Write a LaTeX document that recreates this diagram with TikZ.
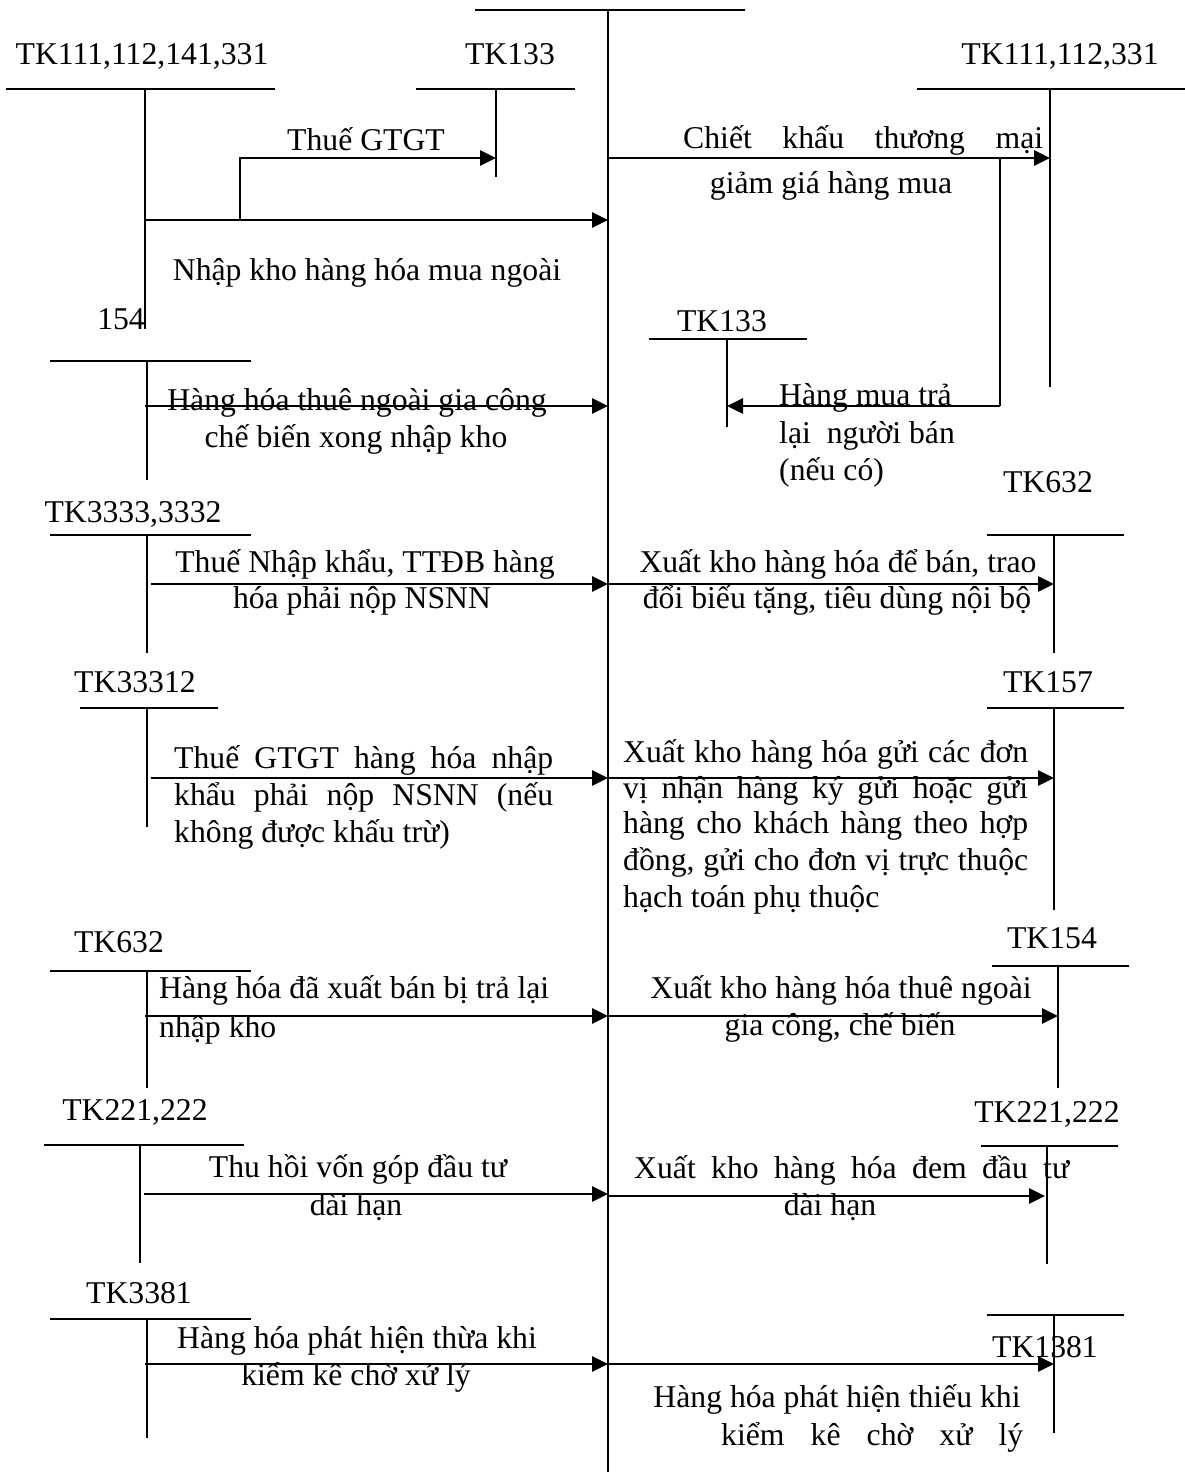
\documentclass[tikz,border=0pt]{standalone}
\usepackage{fontspec}
\setmainfont{Liberation Serif}
\usetikzlibrary{arrows.meta}
\newcommand\taccount[6]{% name, xl, xr, xv, ytop, ybot
  \coordinate (#1-l) at (#2,#5);
  \coordinate (#1-r) at (#3,#5);
  \coordinate (#1-t) at (#4,#5);
  \coordinate (#1-b) at (#4,#6);
  \draw[tl] (#1-l) -- (#1-r);
  \draw[tl] (#1-t) -- (#1-b);
}
\newcommand\flowarrow[4]{% name, x1, x2, y
  \coordinate (#1-s) at (#2,#4);
  \coordinate (#1-e) at (#3,#4);
  \draw[ar] (#1-s) -- (#1-e);
}
\begin{document}
\begin{tikzpicture}[x=1pt,y=-1pt,
  tl/.style={line width=2pt},
  ar/.style={line width=2.8pt,-{Triangle[length=16pt,width=15pt]}},
  lb/.style={inner sep=0pt,anchor=base,font=\fontsize{31.7}{37}\selectfont},
  lbw/.style={lb,anchor=base west},
]
\useasboundingbox (0,0) rectangle (1185,1472);

% central account
\coordinate (ctop) at (608,10);
\coordinate (cbot) at (608,1472);
\coordinate (cbl) at (475,10);
\coordinate (cbr) at (745,10);
\draw[tl] (cbl) -- (cbr);
\draw[tl] (ctop) -- (cbot);

% ---------------- left side ----------------
\taccount{L1}{6}{275}{145}{89}{329}
\node[lb] (L1n) at (142,65) {TK111,112,141,331};
\taccount{T133a}{416}{575}{496}{89}{177}
\node[lb] (T133an) at (510,65) {TK133};
\flowarrow{A1}{145}{608}{220}
\coordinate (vatb) at (240,220);
\coordinate (vatk) at (240,158);
\coordinate (vate) at (496,158);
\draw[ar] (vatb) -- (vatk) -- (vate);
\node[lb] (vatl) at (366,150) {Thuế GTGT};
\node[lb] (A1l) at (367,280) {Nhập kho hàng hóa mua ngoài};

\taccount{L2}{50}{251}{147}{361}{480}
\node[lb,anchor=base east] (L2n) at (145,329) {154};
\flowarrow{A2}{145}{608}{406}
\node[lb] (A2a) at (357,410) {Hàng hóa thuê ngoài gia công};
\node[lb] (A2b) at (356,447) {chế biến xong nhập kho};

\taccount{L3}{50}{251}{147}{535}{653}
\node[lb] (L3n) at (133,522) {TK3333,3332};
\flowarrow{A3}{151}{608}{584}
\node[lb] (A3a) at (365,572) {Thuế Nhập khẩu, TTĐB hàng};
\node[lb] (A3b) at (362,608) {hóa phải nộp NSNN};

\taccount{L4}{80}{218}{147}{708}{827}
\node[lb] (L4n) at (135,692) {TK33312};
\flowarrow{A4}{151}{608}{778}
\node[lbw] (A4a) at (174,768) {\makebox[379pt][s]{Thuế GTGT hàng hóa nhập}};
\node[lbw] (A4b) at (174,805) {\makebox[379pt][s]{khẩu phải nộp NSNN (nếu}};
\node[lbw] (A4c) at (174,842) {không được khấu trừ)};

\taccount{L5}{50}{251}{147}{971}{1088}
\node[lb] (L5n) at (119,952) {TK632};
\flowarrow{A5}{145}{608}{1016}
\node[lbw] (A5a) at (159,998) {Hàng hóa đã xuất bán bị trả lại};
\node[lbw] (A5b) at (159,1037) {nhập kho};

\taccount{L6}{44}{244}{140}{1145}{1263}
\node[lb] (L6n) at (135,1120) {TK221,222};
\flowarrow{A6}{144}{608}{1194}
\node[lb] (A6a) at (358,1177) {Thu hồi vốn góp đầu tư};
\node[lb] (A6b) at (356,1215) {dài hạn};

\taccount{L7}{50}{251}{147}{1319}{1438}
\node[lb] (L7n) at (139,1303) {TK3381};
\flowarrow{A7}{145}{608}{1364}
\node[lb] (A7a) at (357,1348) {Hàng hóa phát hiện thừa khi};
\node[lb] (A7b) at (356,1385) {kiểm kê chờ xử lý};

% ---------------- right side ----------------
\taccount{R1}{917}{1185}{1050}{89}{387}
\node[lb] (R1n) at (1060,65) {TK111,112,331};
\flowarrow{B1}{608}{1050}{158}
\node[lbw] (B1a) at (683,148) {\makebox[360pt][s]{Chiết khấu thương mại}};
\node[lb] (B1b) at (831,193) {giảm giá hàng mua};
\coordinate (rtop) at (1000,158);
\coordinate (rbot) at (1000,406);
\draw[tl] (rtop) -- (rbot);
\taccount{T133b}{649}{807}{727}{339}{427}
\node[lb] (T133bn) at (722,331) {TK133};
\coordinate (B0e) at (727,406);
\draw[ar] (rbot) -- (B0e);
\node[lbw] (B0a) at (779,405) {Hàng mua trả};
\node[lbw] (B0b) at (779,443) {lại\ \ người bán};
\node[lbw] (B0c) at (779,480) {(nếu có)};

\taccount{R2}{987}{1124}{1054}{535}{653}
\node[lb] (R2n) at (1048,492) {TK632};
\flowarrow{B2}{608}{1054}{584}
\node[lb] (B2a) at (838,572) {Xuất kho hàng hóa để bán, trao};
\node[lb] (B2b) at (837,608) {đổi biếu tặng, tiêu dùng nội bộ};

\taccount{R3}{987}{1124}{1054}{708}{910}
\node[lb] (R3n) at (1048,692) {TK157};
\flowarrow{B3}{608}{1054}{778}
\node[lbw] (B3a) at (623,762) {\makebox[405pt][s]{Xuất kho hàng hóa gửi các đơn}};
\node[lbw] (B3b) at (623,798) {\makebox[405pt][s]{vị nhận hàng ký gửi hoặc gửi}};
\node[lbw] (B3c) at (623,833) {\makebox[405pt][s]{hàng cho khách hàng theo hợp}};
\node[lbw] (B3d) at (623,870) {\makebox[405pt][s]{đồng, gửi cho đơn vị trực thuộc}};
\node[lbw] (B3e) at (623,907) {hạch toán phụ thuộc};

\taccount{R4}{992}{1129}{1058}{966}{1088}
\node[lb] (R4n) at (1052,948) {TK154};
\flowarrow{B4}{608}{1058}{1016}
\node[lb] (B4a) at (841,998) {Xuất kho hàng hóa thuê ngoài};
\node[lb] (B4b) at (840,1035) {gia công, chế biến};

\taccount{R5}{981}{1118}{1047}{1146}{1264}
\node[lb] (R5n) at (1047,1122) {TK221,222};
\flowarrow{B5}{608}{1045}{1196}
\node[lbw] (B5a) at (634,1178) {\makebox[435pt][s]{Xuất kho hàng hóa đem đầu tư}};
\node[lb] (B5b) at (830,1215) {dài hạn};

\taccount{R6}{987}{1124}{1054}{1315}{1433}
\node[lb] (R6n) at (1045,1357) {TK1381};
\flowarrow{B6}{608}{1054}{1364}
\node[lb] (B6a) at (837,1407) {Hàng hóa phát hiện thiếu khi};
\node[lbw] (B6b) at (721,1445) {\makebox[302pt][s]{kiểm kê chờ xử lý}};
\end{tikzpicture}
\end{document}
